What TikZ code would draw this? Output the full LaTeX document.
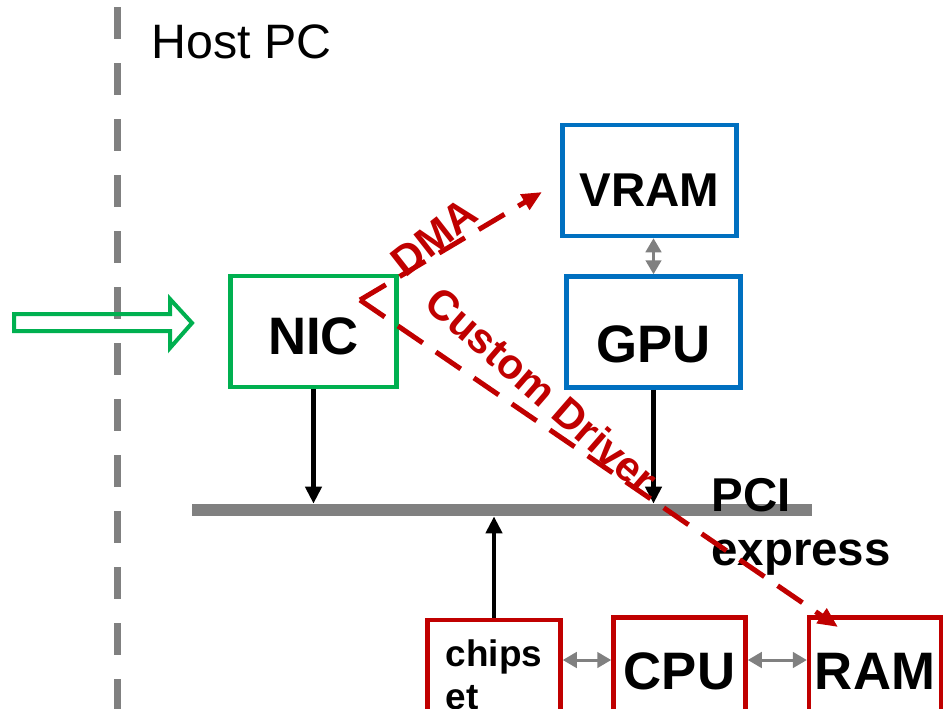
\documentclass[tikz,border=0pt]{standalone}
\usepackage{fontspec}
\setmainfont{Liberation Sans}
\usepackage{xcolor}
\usetikzlibrary{arrows.meta,positioning,calc}
\definecolor{nicgreen}{HTML}{00B050}
\definecolor{gpublue}{HTML}{0070C0}
\definecolor{hostred}{HTML}{C00000}
\definecolor{busgray}{HTML}{808080}

\begin{document}
\begin{tikzpicture}[
  x=0.2mm, y=-0.2mm,
  box/.style    = {draw, line width=0.9mm, font=\fontsize{30}{36}\selectfont\bfseries},
  hw/.style     = {box, minimum height=22.2mm, text height=31pt, text depth=0pt},
  low/.style    = {box, minimum height=20mm, text height=25.5pt, text depth=0pt},
  busarr/.style = {line width=0.9mm, -{Triangle[length=3.4mm,width=3.2mm]}},
  link/.style   = {busgray, line width=0.6mm, {Triangle[length=2.8mm,width=3.1mm]}-{Triangle[length=2.8mm,width=3.1mm]}},
  drv/.style    = {hostred, line width=1mm, dash pattern=on 6mm off 3.2mm, -{Triangle[length=4mm,width=3.4mm]}},
  drvlbl/.style = {hostred, inner sep=0pt, font=\fontsize{24}{29}\selectfont\bfseries},
]
\clip (0,0) rectangle (948,708);

\draw[busgray, line width=1.4mm, dash pattern=on 6.3mm off 4.9mm] (117,7) -- (117,720);
\node[anchor=base west, inner sep=0pt, font=\fontsize{27.5}{33}\selectfont] (host) at (151,58) {Host PC};

\draw[nicgreen, line width=0.8mm, line join=miter]
  (14,314) -- (170,314) -- (170,299) -- (192,323) -- (170,348) -- (170,331) -- (14,331) -- cycle;

\node[hw, draw=nicgreen, minimum width=33.2mm, text height=26pt] (nic) at (313.5,331.5) {NIC};
\node[hw, draw=gpublue, minimum width=34.8mm, text height=29.6pt,
      font=\fontsize{27}{32}\selectfont\bfseries] (vram) at (649.5,180.5) {VRAM};
\node[hw, draw=gpublue, minimum width=34.8mm, text height=35pt] (gpu) at (653.5,332) {GPU};

\node[fill=busgray, inner sep=0pt, minimum width=124mm, minimum height=2.4mm] (pcie) at (502,510) {};
\node[anchor=north west, inner sep=0pt, align=left, font=\fontsize{27}{31}\selectfont\bfseries] (pcilbl) at (711,478) {PCI\\express};

\node[box, draw=hostred, anchor=north, minimum width=26.6mm, inner ysep=3.9mm, align=left,
      font=\fontsize{21}{25}\selectfont\bfseries] (chipset) at (494,617.5) {chips\\et};
\node[low, draw=hostred, minimum width=26.4mm] (cpu) at (679.5,667.5) {CPU};
\node[low, draw=hostred, minimum width=26.2mm] (ram) at (875,667.5) {RAM};

\draw[busarr] (nic.south) -- (nic.south |- pcie.north);
\draw[busarr] (gpu.south) -- (gpu.south |- pcie.north);
\draw[busarr] (chipset.north) -- (chipset.north |- pcie.south);
\draw[link] (gpu.north) -- (gpu.north |- vram.south);
\draw[link] (chipset.east |- 0,660) -- (cpu.west |- 0,660);
\draw[link] (cpu.east |- 0,660) -- (ram.west |- 0,660);

\coordinate (src) at (360,300);
\coordinate (dmaend) at (542,192);
\coordinate (ramin) at (838,627);
\node[drvlbl, rotate=38] (dmalbl) at (434,237) {DMA};
\node[drvlbl, rotate=-41] (drvtxt) at (542,390) {Custom Driver};
\draw[drv] (src) -- (dmaend);
\draw[drv] (src) -- (ramin);
\end{tikzpicture}
\end{document}
